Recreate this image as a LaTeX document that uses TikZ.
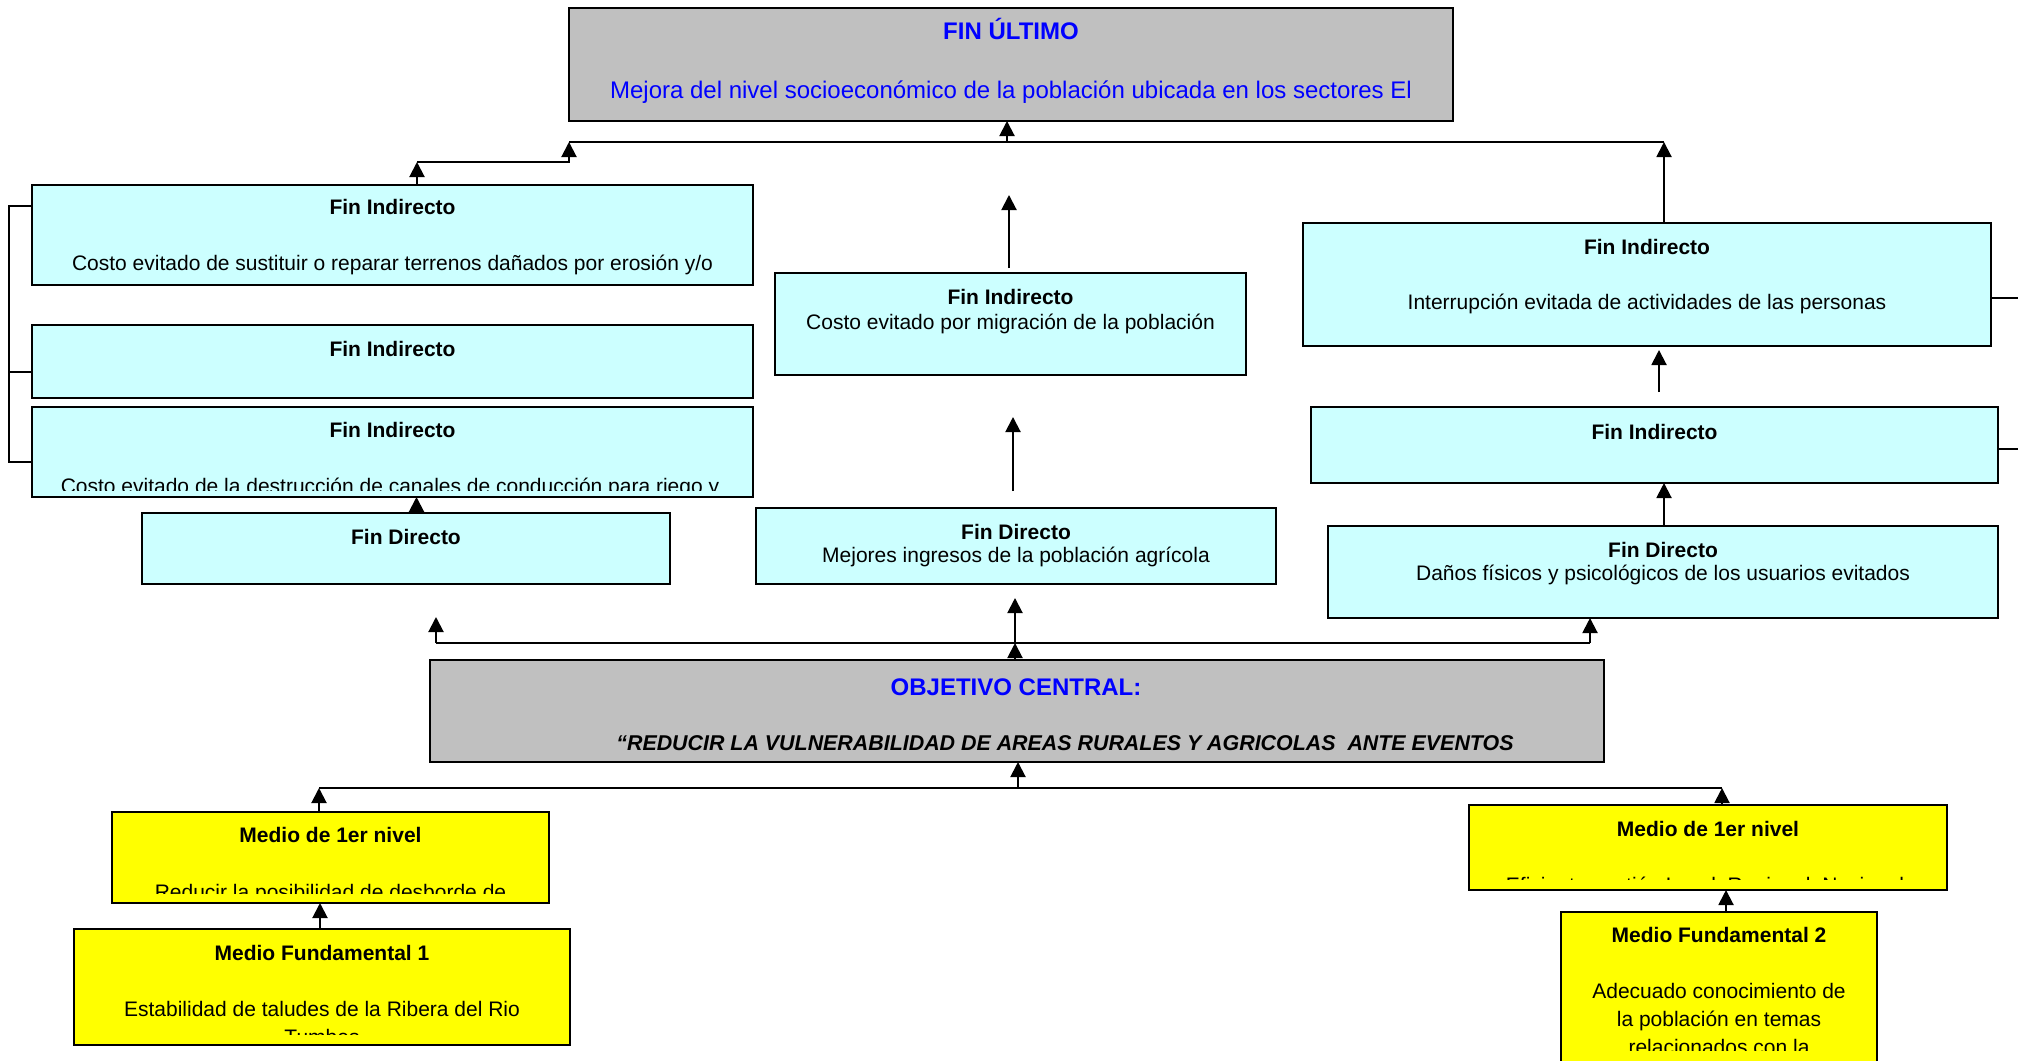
\documentclass[tikz,border=0pt]{standalone}
\usepackage{fontspec}
\setmainfont{Liberation Sans}
\usetikzlibrary{arrows.meta,calc}
\definecolor{cyanbox}{HTML}{CCFFFF}
\definecolor{graybox}{HTML}{C0C0C0}
\definecolor{yellowbox}{HTML}{FFFF00}
\definecolor{bluetxt}{HTML}{0000FF}
\newcommand\bx[6]{\node[#2, minimum width={(#5-#3)*0.5pt}, minimum height={(#6-#4)*0.5pt}] (#1) at ({(#3+#5)/2},{(#4+#6)/2}) {};}
\begin{document}
\begin{tikzpicture}[x=0.5pt, y=-0.5pt,
  font=\fontsize{10.5}{12.6}\selectfont,
  box/.style={draw=black, line width=1pt, inner sep=0pt, outer sep=0pt},
  cbox/.style={box, fill=cyanbox},
  gbox/.style={box, fill=graybox},
  ybox/.style={box, fill=yellowbox},
  txt/.style={anchor=base, inner sep=0pt},
  ttl/.style={txt, font=\fontsize{10.5}{12.6}\selectfont\bfseries},
  bigttl/.style={txt, font=\fontsize{12}{14}\selectfont\bfseries, text=bluetxt},
  arr/.style={-{Triangle[length=7.5pt,width=7.5pt]}, line width=1pt},
  ln/.style={line width=1pt}]
\fill[white] (0,0) rectangle (2018,1060);
\useasboundingbox (0,0) rectangle (2018,1060);

% boxes
\bx{fu}{gbox}{569}{8}{1453}{121}
\bx{fia}{cbox}{32}{185}{753}{285}
\bx{fib}{cbox}{32}{325}{753}{398}
\bx{fic}{cbox}{32}{407}{753}{497}
\bx{fdl}{cbox}{142}{513}{670}{584}
\bx{fim}{cbox}{775}{273}{1246}{375}
\bx{fdm}{cbox}{756}{508}{1276}{584}
\bx{fir}{cbox}{1303}{223}{1991}{346}
\bx{fir2}{cbox}{1311}{407}{1998}{483}
\bx{fdr}{cbox}{1328}{526}{1998}{618}
\bx{obj}{gbox}{430}{660}{1604}{762}
\bx{mone}{ybox}{112}{812}{549}{903}
\bx{mfone}{ybox}{74}{929}{570}{1045}
\bx{mtwo}{ybox}{1469}{805}{1947}{890}
\bx{mftwo}{ybox}{1561}{912}{1877}{1075}

% texts
\node[bigttl] (tfu) at (1011,39.5) {FIN ÚLTIMO};
\node[txt, text=bluetxt, font=\fontsize{12}{14}\selectfont] (tfub) at (1011,98) {Mejora del nivel socioeconómico de la población ubicada en los sectores El};

\node[ttl] (tfia) at (392.5,214.5) {Fin Indirecto};
\node[txt] (tfiab) at (392.5,270) {Costo evitado de sustituir o reparar terrenos dañados por erosión y/o};
\node[ttl] (tfib) at (392.5,356) {Fin Indirecto};
\node[ttl] (tfic) at (392.5,437) {Fin Indirecto};
\begin{scope}
\clip (fic.north west) rectangle ($(fic.south east)+(0,-7)$);
\node[txt] (tficb) at (390,493) {Costo evitado de la destrucción de canales de conducción para riego y};
\end{scope}
\node[ttl] (tfdl) at (406,544) {Fin Directo};

\node[ttl] (tfim) at (1010.5,304) {Fin Indirecto};
\node[txt] (tfimb) at (1010.5,329) {Costo evitado por migración de la población};
\node[ttl] (tfdm) at (1016,539) {Fin Directo};
\node[txt] (tfdmb) at (1016,562) {Mejores ingresos de la población agrícola};

\node[ttl] (tfir) at (1647,254) {Fin Indirecto};
\node[txt] (tfirb) at (1647,309) {Interrupción evitada de actividades de las personas};
\node[ttl] (tfirc) at (1654.5,439) {Fin Indirecto};
\node[ttl] (tfdr) at (1663,557) {Fin Directo};
\node[txt] (tfdrb) at (1663,580) {Daños físicos y psicológicos de los usuarios evitados};

\node[bigttl] (tobj) at (1016,695.5) {OBJETIVO CENTRAL:};
\node[txt, font=\fontsize{10.7}{12.8}\selectfont\bfseries\itshape] (tobjb) at (1065,750) {“REDUCIR LA VULNERABILIDAD DE AREAS RURALES Y AGRICOLAS\ \ ANTE EVENTOS};

\node[ttl] (tmone) at (330.5,842) {Medio de 1er nivel};
\begin{scope}
\clip (mone.north west) rectangle ($(mone.south east)+(0,-10)$);
\node[txt] (tmoneb) at (330.5,899) {Reducir la posibilidad de desborde de};
\end{scope}
\node[ttl] (tmfone) at (322,960) {Medio Fundamental 1};
\begin{scope}
\clip (mfone.north west) rectangle ($(mfone.south east)+(0,-11)$);
\node[txt] (tmfoneb) at (322,1016) {Estabilidad de taludes de la Ribera del Rio};
\node[txt] (tmfonec) at (322,1044) {Tumbes};
\end{scope}

\node[ttl] (tmtwo) at (1708,836) {Medio de 1er nivel};
\begin{scope}
\clip (mtwo.north west) rectangle ($(mtwo.south east)+(0,-11)$);
\node[txt] (tmtwob) at (1705,892) {Eficiente gestión Local, Regional, Nacional};
\end{scope}
\node[ttl] (tmftwo) at (1719,942) {Medio Fundamental 2};
\begin{scope}
\clip (mftwo.north west) rectangle (1877,1050);
\node[txt] (tmftwob) at (1719,998) {Adecuado conocimiento de};
\node[txt] (tmftwoc) at (1719,1026) {la población en temas};
\node[txt] (tmftwod) at (1719,1054) {relacionados con la};
\end{scope}

% connectors, top
\coordinate (ja) at (417,162);
\coordinate (jb) at (569,142);
\coordinate (jc) at (1664,142);
\coordinate (jd) at (1007,142);
\draw[arr] (fia.north -| ja) -- (ja);
\draw[arr] (ja) -- (ja -| jb) -- (jb);
\draw[ln] (jb) -- (jc);
\draw[arr] (fir.north -| jc) -- (jc);
\draw[arr] (jd) -- (fu.south -| jd);

% bracket at left
\coordinate (ba) at (9,206);
\coordinate (bb) at (9,372);
\coordinate (bc) at (9,462);
\draw[ln] (fia.west |- ba) -- (ba) -- (bc) -- (fic.west |- bc);
\draw[ln] (bb) -- (fib.west |- bb);

% stubs at right
\coordinate (sa) at (2018,298);
\coordinate (sb) at (2018,449);
\draw[ln] (fir.east |- sa) -- (sa);
\draw[ln] (fir2.east |- sb) -- (sb);

% vertical arrows in columns
\coordinate (ma) at (1009,268);
\coordinate (mb) at (1009,195);
\draw[arr] (ma) -- (mb);
\coordinate (mc) at (1013,491);
\coordinate (md) at (1013,417);
\draw[arr] (mc) -- (md);
\coordinate (xl) at (416.5,0);
\draw[arr] (fdl.north -| xl) -- (fic.south -| xl);
\coordinate (ra) at (1659,392);
\coordinate (rb) at (1659,350);
\draw[arr] (ra) -- (rb);
\coordinate (xr) at (1664,0);
\draw[arr] (fdr.north -| xr) -- (fir2.south -| xr);

% distribution above objective
\coordinate (da) at (436,643);
\coordinate (db) at (1590,643);
\coordinate (dc) at (1015,643);
\coordinate (dae) at (436,617);
\coordinate (dce) at (1015,598);
\draw[ln] (da) -- (db);
\draw[arr] (da) -- (dae);
\draw[arr] (dc) -- (dce);
\draw[arr] (db) -- (fdr.south -| db);
\draw[arr] (obj.north -| dc) -- (dc);

% below objective
\coordinate (ea) at (319,788);
\coordinate (eb) at (1722,788);
\coordinate (ec) at (1018,788);
\draw[ln] (ea) -- (eb);
\draw[arr] (mone.north -| ea) -- (ea);
\draw[arr] (mtwo.north -| eb) -- (eb);
\draw[arr] (ec) -- (obj.south -| ec);
\coordinate (xa) at (320,0);
\draw[arr] (mfone.north -| xa) -- (mone.south -| xa);
\coordinate (xb) at (1726,0);
\draw[arr] (mftwo.north -| xb) -- (mtwo.south -| xb);
\end{tikzpicture}
\end{document}
